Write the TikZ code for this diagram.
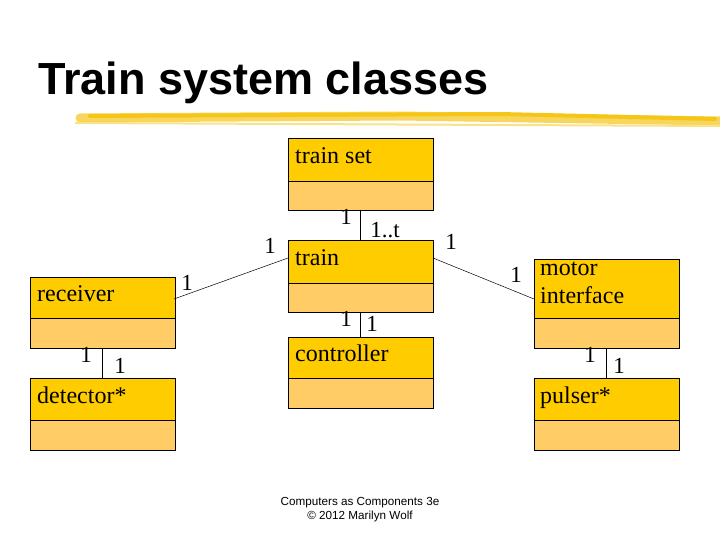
\documentclass[tikz,border=0pt]{standalone}
\usepackage{fontspec}
\setmainfont{Liberation Serif}
\newfontfamily\titlefont{Liberation Sans}
\definecolor{clsTop}{HTML}{FFCC00}
\definecolor{clsBot}{HTML}{FFCC66}
\definecolor{brush}{HTML}{F5C518}
\begin{document}
\begin{tikzpicture}[x=1pt,y=-1pt,
  top/.style={draw=black,fill=clsTop,line width=0.6pt},
  bot/.style={draw=black,fill=clsBot,line width=0.6pt},
  lbl/.style={anchor=north west,inner sep=0pt,font=\fontsize{24}{28}\selectfont,align=left},
  mult/.style={inner sep=0pt,font=\fontsize{23}{25}\selectfont},
  assoc/.style={draw=black,line width=0.5pt}]
\useasboundingbox (0,0) rectangle (720,540);
% title
\node[anchor=base west,inner sep=0pt,font=\titlefont\bfseries\fontsize{45}{50}\selectfont] (title) at (38,95) {Train system classes};
\draw[brush!70,line width=9pt,line cap=round] (80,118) -- (400,116) -- (720,121);
\draw[brush,line width=4pt,line cap=round] (90,116) -- (500,114) -- (715,119);
\draw[brush!50,line width=2pt] (75,123) -- (720,126);
% class boxes: name, x0, top, divider, bottom
\foreach \n/\xa/\ya/\yb/\yc in {ts/288/138/181/210, tr/288/240/283/312, ct/288/337/378/408,
   rc/30/277/318/348, dt/30/378/420/450, mi/534/259/318/348, pu/534/378/420/450}{
  \draw[top] (\xa,\ya) rectangle (\xa+145,\yb);
  \draw[bot] (\xa,\yb) rectangle (\xa+145,\yc);
}
\node[lbl] (tsl) at (295,147) {train set};
\node[lbl] (trl) at (295,249) {train};
\node[lbl] (ctl) at (295,345) {controller};
\node[lbl] (rcl) at (37,285) {receiver};
\node[lbl] (dtl) at (37,387) {detector*};
\node[lbl] (mil) at (540,262) {motor\\interface};
\node[lbl] (pul) at (540,387) {pulser*};
% associations
\coordinate (a1) at (360,210); \coordinate (a2) at (360,240);
\coordinate (b1) at (360,312); \coordinate (b2) at (360,337);
\coordinate (c1) at (102,348); \coordinate (c2) at (102,378);
\coordinate (d1) at (606,348); \coordinate (d2) at (606,378);
\coordinate (e1) at (174,299); \coordinate (e2) at (288,258);
\coordinate (f1) at (433,258); \coordinate (f2) at (534,299);
\draw[assoc] (a1) -- (a2);
\draw[assoc] (b1) -- (b2);
\draw[assoc] (c1) -- (c2);
\draw[assoc] (d1) -- (d2);
\draw[assoc] (e1) -- (e2);
\draw[assoc] (f1) -- (f2);
% multiplicities
\node[mult] (m1) at (346,217) {1};
\node[mult] (m2) at (385,230) {1..t};
\node[mult] (m3) at (270,246) {1};
\node[mult] (m4) at (187,283) {1};
\node[mult] (m5) at (451,242) {1};
\node[mult] (m6) at (516,275) {1};
\node[mult] (m7) at (346,319) {1};
\node[mult] (m8) at (372,324) {1};
\node[mult] (m9) at (86,355) {1};
\node[mult] (m10) at (120,366) {1};
\node[mult] (m11) at (590,355) {1};
\node[mult] (m12) at (619,366) {1};
% footer
\node[font=\titlefont\fontsize{11.7}{14}\selectfont,align=center,inner sep=0pt] (foot) at (360,510)
  {Computers as Components 3e\\\textcopyright{} 2012 Marilyn Wolf};
\end{tikzpicture}
\end{document}
